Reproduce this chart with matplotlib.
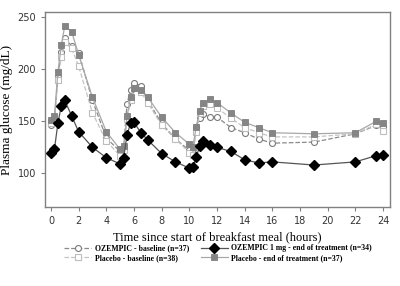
import matplotlib
matplotlib.use('Agg')
import matplotlib.pyplot as plt

# sampling times (hours since breakfast)
t = [0, 0.25, 0.5, 0.75, 1, 1.5, 2, 3, 4, 5, 5.25, 5.5, 5.75, 6, 6.5, 7, 8, 9, 10,
     10.25, 10.5, 10.75, 11, 11.5, 12, 13, 14, 15, 16, 19, 22, 23.5, 24]

# plasma glucose (mg/dL)
oz_base = [146, 150, 193, 217, 230, 222, 216, 170, 134, 121, 125, 167, 180, 187, 184, 170, 148, 133, 122,
           120, 145, 153, 157, 154, 154, 144, 139, 133, 129, 130, 138, 146, 145]
oz_eot = [120, 123, 148, 165, 170, 155, 140, 125, 115, 109, 115, 137, 148, 149, 139, 132, 119, 111, 105,
          106, 116, 126, 131, 127, 125, 121, 113, 110, 111, 108, 111, 117, 118]
pl_base = [148, 152, 190, 212, 226, 220, 203, 158, 131, 117, 122, 152, 170, 182, 178, 168, 146, 133, 120,
           118, 140, 158, 165, 167, 163, 153, 144, 139, 135, 135, 138, 147, 141]
pl_eot = [151, 155, 197, 223, 242, 236, 214, 173, 140, 123, 126, 155, 173, 182, 180, 173, 154, 139, 128,
          125, 145, 160, 168, 171, 168, 158, 149, 144, 139, 138, 139, 150, 148]

labels = ['OZEMPIC - baseline (n=37)', 'Placebo - baseline (n=38)',
          'OZEMPIC 1 mg - end of treatment (n=34)', 'Placebo - end of treatment (n=37)']

fig = plt.figure(figsize=(4, 2.86), dpi=100)
ax = fig.add_axes([0.1125, 0.276, 0.8625, 0.682])

h1, = ax.plot(t, oz_base, ls='--', color='#8a8a8a', lw=0.9, marker='o', ms=4.3,
              mfc='white', mec='#7a7a7a', mew=0.8)
h2, = ax.plot(t, pl_base, ls='--', color='#c4c4c4', lw=0.9, marker='s', ms=4,
              mfc='white', mec='#bdbdbd', mew=0.8)
h4, = ax.plot(t, pl_eot, ls='-', color='#a8a8a8', lw=0.9, marker='s', ms=4.2,
              mfc='#858585', mec='#808080', mew=0.6)
h3, = ax.plot(t, oz_eot, ls='-', color='#555555', lw=0.9, marker='D', ms=4.6,
              mfc='black', mec='black')

ax.set_xlim(-0.43, 24.5)
ax.set_ylim(67.6, 255)
ax.set_xticks(range(0, 25, 2))
ax.set_yticks([100, 150, 200, 250])
for s in ax.spines.values():
    s.set_color('#808080')
    s.set_linewidth(1.0)
ax.tick_params(colors='#808080', labelcolor='#333333', labelsize=7, length=3, width=0.8)

serif = ['Liberation Serif', 'DejaVu Serif']
ax.set_xlabel('Time since start of breakfast meal (hours)', family=serif, fontsize=9, labelpad=4)
ax.set_ylabel('Plasma glucose (mg/dL)', family=serif, fontsize=9.5, labelpad=3)

fig.legend([h1, h2, h3, h4], labels, ncol=2, loc='center', bbox_to_anchor=(0.545, 0.115),
           frameon=False, prop={'family': serif, 'size': 5.6, 'weight': 'bold'},
           handlelength=3.5, columnspacing=1.5, labelspacing=0.2, handletextpad=0.4)

fig.savefig('out.png', dpi=100)
